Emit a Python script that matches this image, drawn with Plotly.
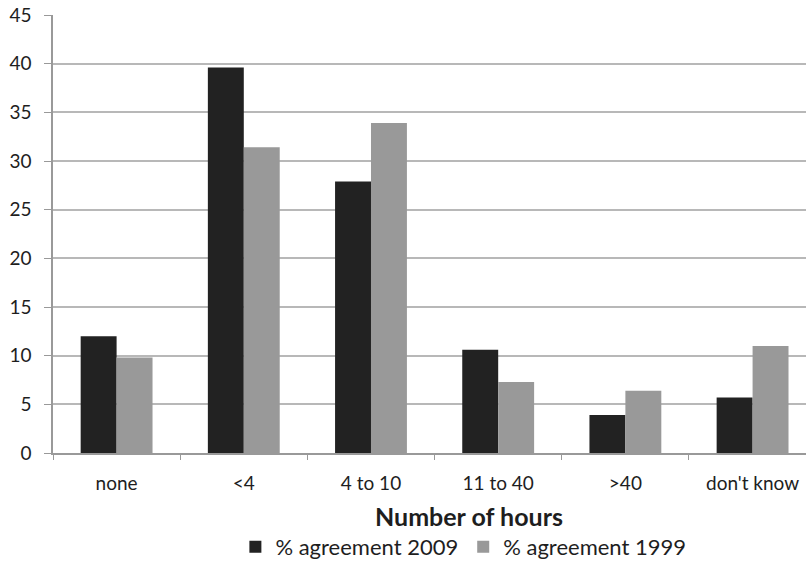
import plotly.graph_objects as go

categories = ["none", "<4", "4 to 10", "11 to 40", ">40", "don't know"]
agree_2009 = [12.0, 39.6, 27.9, 10.6, 3.9, 5.7]
agree_1999 = [9.8, 31.4, 33.9, 7.3, 6.4, 11.0]
y_ticks = [0, 5, 10, 15, 20, 25, 30, 35, 40, 45]

FONT = "Lato, Open Sans, sans-serif"
TXT = "#1e1e1e"

fig = go.Figure()
fig.add_trace(go.Bar(x=categories, y=agree_2009, name="% agreement 2009",
                     marker=dict(color="#222222", line=dict(width=0))))
fig.add_trace(go.Bar(x=categories, y=agree_1999, name="% agreement 1999",
                     marker=dict(color="#999999", line=dict(width=0))))

fig.update_layout(
    width=806, height=567,
    margin=dict(l=53, r=0, t=15, b=114, autoexpand=False),
    paper_bgcolor="white", plot_bgcolor="white",
    barmode="group", bargap=0.435, bargroupgap=0,
    font=dict(family=FONT, size=18, color=TXT),
    showlegend=True,
    legend=dict(orientation="h", x=0.545, xanchor="center", y=-0.2146, yanchor="middle",
                font=dict(size=22, family=FONT, color=TXT),
                traceorder="normal", itemclick=False, tracegroupgap=0),
    annotations=[dict(text="<b>Number of hours</b>", xref="paper", yref="paper",
                      x=0.553, y=-0.144, xanchor="center", yanchor="middle",
                      showarrow=False, font=dict(size=25, family=FONT, color=TXT))],
)
fig.update_xaxes(
    type="category", range=[-0.5, 5.42], automargin=False,
    showline=True, linecolor="#999999", linewidth=1.5,
    ticks="outside", tickson="boundaries", ticklen=5, tickcolor="#999999",
    tickfont=dict(size=19, family=FONT, color=TXT),
    ticklabelstandoff=12,
    showgrid=False,
)
fig.update_yaxes(
    range=[0, 45], tickvals=y_ticks, ticktext=[str(v) for v in y_ticks],
    automargin=False,
    showline=True, linecolor="#999999", linewidth=1.5,
    ticks="outside", ticklen=7, tickcolor="#999999",
    tickfont=dict(size=19, family=FONT, color=TXT),
    ticklabelstandoff=9,
    showgrid=True, gridcolor="#b8b8b8", gridwidth=1.5, zeroline=False,
)

fig.write_html("out.html", config={"displayModeBar": False},
               post_script="document.body.style.margin='0';")
